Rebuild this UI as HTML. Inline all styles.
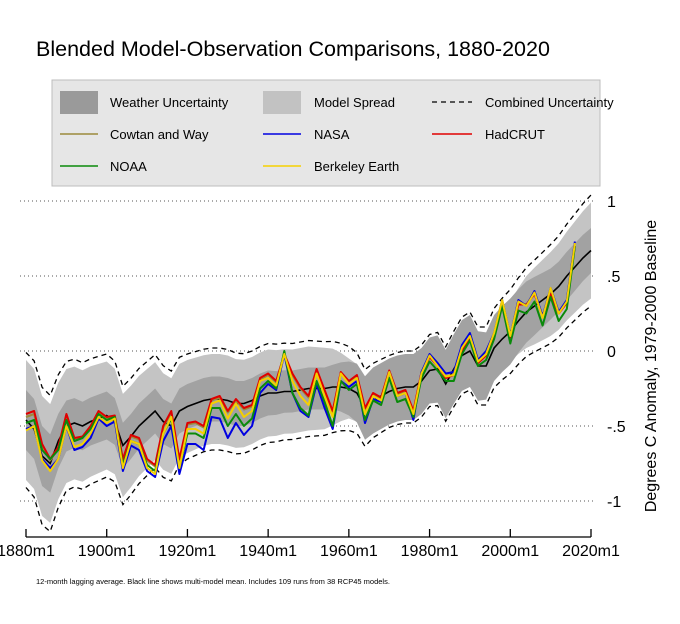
<!DOCTYPE html>
<html><head><meta charset="utf-8">
<style>
body{margin:0;background:#fff;}
svg{display:block;font-family:"Liberation Sans",Arial,sans-serif;}
</style></head>
<body>
<svg id="chart" width="680" height="624" viewBox="0 0 680 624">
<rect x="0" y="0" width="680" height="624" fill="#fff"/>
<text x="36" y="56" font-size="21.5" fill="#000">Blended Model-Observation Comparisons, 1880-2020</text>
<g>
<rect x="52" y="80" width="548" height="106" fill="#e6e6e6" stroke="#bdbdbd"/>
<g><rect x="60" y="91" width="38" height="23" fill="#9a9a9a"/><text x="110" y="107" font-size="13">Weather Uncertainty</text></g>
<g><rect x="263" y="91" width="38" height="23" fill="#c2c2c2"/><text x="314" y="107" font-size="13">Model Spread</text></g>
<g><line x1="432" y1="102" x2="472" y2="102" stroke="#000" stroke-width="1.3" stroke-dasharray="5,4"/><text x="485" y="107" font-size="13">Combined Uncertainty</text></g>
<g><line x1="60" y1="134" x2="98" y2="134" stroke="#9b8a3c" stroke-width="1.5"/><text x="110" y="139" font-size="13">Cowtan and Way</text></g>
<g><line x1="263" y1="134" x2="301" y2="134" stroke="#0000e0" stroke-width="1.5"/><text x="314" y="139" font-size="13">NASA</text></g>
<g><line x1="432" y1="134" x2="472" y2="134" stroke="#e00000" stroke-width="1.5"/><text x="485" y="139" font-size="13">HadCRUT</text></g>
<g><line x1="60" y1="166" x2="98" y2="166" stroke="#0a8a0a" stroke-width="1.5"/><text x="110" y="171" font-size="13">NOAA</text></g>
<g><line x1="263" y1="166" x2="301" y2="166" stroke="#f5d000" stroke-width="1.5"/><text x="314" y="171" font-size="13">Berkeley Earth</text></g>
</g>
<g id="plot"></g>
<text x="36" y="584" font-size="7.5" fill="#000">12-month lagging average. Black line shows multi-model mean. Includes 109 runs from 38 RCP45 models.</text>
</svg>
<script>
const yTicks = [1, 0.5, 0, -0.5, -1];
const yTickLabels = ["1", ".5", "0", "-.5", "-1"];
const xTicks = [1880, 1900, 1920, 1940, 1960, 1980, 2000, 2020];
const xTickLabels = ["1880m1", "1900m1", "1920m1", "1940m1", "1960m1", "1980m1", "2000m1", "2020m1"];
// model mean, every 2 years from 1880
const meanValues = [-0.46,-0.52,-0.7,-0.75,-0.6,-0.5,-0.48,-0.5,-0.47,-0.45,
-0.43,-0.47,-0.63,-0.57,-0.5,-0.45,-0.4,-0.47,-0.5,-0.4,
-0.37,-0.35,-0.33,-0.32,-0.32,-0.33,-0.35,-0.35,-0.33,-0.3,
-0.28,-0.28,-0.27,-0.27,-0.26,-0.25,-0.25,-0.25,-0.24,-0.24,
-0.25,-0.28,-0.38,-0.33,-0.3,-0.27,-0.25,-0.24,-0.24,-0.2,
-0.13,-0.12,-0.22,-0.12,-0.03,0.0,-0.1,-0.1,0.02,0.08,
0.13,0.2,0.26,0.3,0.34,0.38,0.43,0.5,0.56,0.62,0.67];
// half widths, every 5 years from 1880
const spreadHalf = [.4,.4,.38,.37,.36,.34,.33,.32,.31,.3,.3,.29,.29,.28,.28,.27,.2,.18,.18,.18,.18,.18,.18,.18,.2,.25,.28,.3,.32];
const weatherHalf = [.2,.2,.17,.16,.16,.15,.15,.15,.15,.15,.15,.15,.15,.14,.14,.14,.18,.22,.22,.22,.22,.23,.24,.22,.22,.2,.17,.16,.15];
const combinedHalf = [.45,.46,.43,.42,.41,.39,.38,.37,.35,.34,.34,.33,.33,.32,.32,.31,.28,.25,.24,.24,.24,.25,.26,.26,.28,.3,.33,.35,.37];
// observations, every 2 years from 1880
const cowtanValues = [-0.44,-0.42,-0.64,-0.73,-0.65,-0.43,-0.59,-0.58,-0.51,-0.41,
-0.45,-0.44,-0.73,-0.57,-0.59,-0.73,-0.77,-0.51,-0.41,-0.73,
-0.49,-0.48,-0.51,-0.33,-0.31,-0.41,-0.33,-0.39,-0.37,-0.19,
-0.16,-0.21,-0.03,-0.16,-0.25,-0.31,-0.13,-0.27,-0.41,-0.15,
-0.21,-0.17,-0.4,-0.29,-0.32,-0.14,-0.29,-0.27,-0.41,-0.15,
-0.04,-0.1,-0.17,-0.16,0.01,0.09,-0.07,-0.02,0.11,0.33,
0.1,0.32,0.31,0.39,0.23,0.4,0.25,0.33,0.72];
const hadcrutValues = [-0.42,-0.4,-0.62,-0.72,-0.64,-0.42,-0.58,-0.57,-0.5,-0.4,
-0.44,-0.43,-0.72,-0.56,-0.58,-0.72,-0.76,-0.5,-0.4,-0.72,
-0.48,-0.47,-0.5,-0.32,-0.3,-0.4,-0.32,-0.38,-0.36,-0.18,
-0.15,-0.2,-0.02,-0.15,-0.24,-0.3,-0.12,-0.26,-0.4,-0.14,
-0.2,-0.16,-0.38,-0.28,-0.31,-0.13,-0.28,-0.26,-0.4,-0.14,
-0.04,-0.1,-0.18,-0.16,0.0,0.08,-0.08,-0.03,0.1,0.32,
0.09,0.31,0.31,0.38,0.23,0.38,0.25,0.32,0.7];
const nasaValues = [-0.52,-0.5,-0.72,-0.78,-0.72,-0.5,-0.66,-0.64,-0.58,-0.45,
-0.5,-0.47,-0.8,-0.63,-0.66,-0.8,-0.84,-0.6,-0.5,-0.82,
-0.62,-0.62,-0.66,-0.44,-0.45,-0.58,-0.48,-0.56,-0.5,-0.28,
-0.22,-0.26,-0.02,-0.28,-0.4,-0.44,-0.22,-0.38,-0.52,-0.2,
-0.24,-0.2,-0.48,-0.32,-0.34,-0.14,-0.3,-0.28,-0.46,-0.14,
-0.02,-0.08,-0.15,-0.14,0.04,0.12,-0.06,0.0,0.12,0.34,
0.1,0.34,0.3,0.4,0.23,0.42,0.26,0.34,0.73];
const noaaValues = [-0.48,-0.46,-0.66,-0.72,-0.66,-0.46,-0.6,-0.58,-0.52,-0.42,
-0.46,-0.44,-0.76,-0.6,-0.62,-0.76,-0.8,-0.55,-0.45,-0.78,
-0.55,-0.55,-0.58,-0.38,-0.38,-0.5,-0.42,-0.5,-0.45,-0.25,
-0.2,-0.25,0.0,-0.28,-0.38,-0.43,-0.2,-0.34,-0.5,-0.2,
-0.26,-0.22,-0.46,-0.33,-0.36,-0.18,-0.34,-0.32,-0.44,-0.18,
-0.07,-0.13,-0.2,-0.2,-0.02,0.07,-0.1,-0.06,0.08,0.3,
0.05,0.27,0.25,0.33,0.17,0.36,0.2,0.28,0.7];
const berkeleyValues = [-0.53,-0.5,-0.73,-0.8,-0.72,-0.5,-0.64,-0.62,-0.55,-0.44,
-0.48,-0.45,-0.78,-0.6,-0.62,-0.78,-0.82,-0.55,-0.44,-0.78,
-0.52,-0.52,-0.55,-0.35,-0.33,-0.45,-0.35,-0.44,-0.4,-0.2,
-0.18,-0.23,-0.02,-0.2,-0.3,-0.36,-0.15,-0.3,-0.44,-0.15,
-0.22,-0.18,-0.42,-0.3,-0.33,-0.14,-0.3,-0.28,-0.42,-0.15,
-0.03,-0.1,-0.17,-0.16,0.02,0.1,-0.07,-0.02,0.12,0.34,
0.1,0.33,0.3,0.39,0.22,0.42,0.25,0.33,0.72];

const NS = "http://www.w3.org/2000/svg";
const plot = document.getElementById("plot");
function xScale(yr){ return 26 + (yr - 1880) * (565 / 140); }
function yScale(v){ return 351 - v * 150; }
function halfAt(arr, yr){
  const f = (yr - 1880) / 5, i = Math.min(Math.floor(f), arr.length - 2), t = f - i;
  return arr[i] * (1 - t) + arr[i + 1] * t;
}
function mk(tag, attrs){
  const e = document.createElementNS(NS, tag);
  for (const k in attrs) e.setAttribute(k, attrs[k]);
  plot.appendChild(e);
  return e;
}
function pathFrom(vals){
  return vals.map((v, i) => (i ? "L" : "M") + xScale(1880 + 2 * i).toFixed(1) + "," + yScale(v).toFixed(1)).join(" ");
}
function bandPath(halfArr, sign){
  return meanValues.map((m, i) => { const yr = 1880 + 2 * i; return [xScale(yr), yScale(m + sign * halfAt(halfArr, yr))]; });
}
function area(halfArr){
  const up = bandPath(halfArr, 1), lo = bandPath(halfArr, -1).reverse();
  return up.concat(lo).map((p, i) => (i ? "L" : "M") + p[0].toFixed(1) + "," + p[1].toFixed(1)).join(" ") + "Z";
}
function line(pts){ return pts.map((p, i) => (i ? "L" : "M") + p[0].toFixed(1) + "," + p[1].toFixed(1)).join(" "); }

yTicks.forEach((v, i) => {
  const g = mk("line", {x1: 20, x2: 594, y1: yScale(v), y2: yScale(v), stroke: "#555", "stroke-width": 1, "stroke-dasharray": "1,3"});
  
  
  const t = mk("text", {x: 607, y: yScale(v) + 6, "font-size": 16});
  t.textContent = yTickLabels[i];
  
  
});
const sp = mk("path", {d: area(spreadHalf), fill: "#c4c4c4"});


const wu = mk("path", {d: area(weatherHalf), fill: "#a2a2a2"});


[1, -1].forEach(s => {
  const c = mk("path", {d: line(bandPath(combinedHalf, s)), fill: "none", stroke: "#000", "stroke-width": 1.3, "stroke-dasharray": "5,4"});
  
  
});
const mn = mk("path", {d: line(meanValues.map((m, i) => [xScale(1880 + 2 * i), yScale(m)])), fill: "none", stroke: "#000", "stroke-width": 1.6});


const series = [["cowtan-and-way-line", cowtanValues, "#9b8a3c"], ["hadcrut-line", hadcrutValues, "#e00000"], ["nasa-line", nasaValues, "#0000e0"], ["noaa-line", noaaValues, "#0a8a0a"], ["berkeley-earth-line", berkeleyValues, "#f5d000"]];
series.forEach(s => {
  const p = mk("path", {d: pathFrom(s[1]), fill: "none", stroke: s[2], "stroke-width": 2, "stroke-linejoin": "round"});
  
  
});
const ax = mk("line", {x1: xScale(1880), x2: xScale(2020), y1: 537, y2: 537, stroke: "#000", "stroke-width": 1.3});


xTicks.forEach((yr, i) => {
  const tk = mk("line", {x1: xScale(yr), x2: xScale(yr), y1: 529, y2: 537, stroke: "#000", "stroke-width": 1.3});
  
  
  const t = mk("text", {x: xScale(yr), y: 556, "font-size": 16, "text-anchor": "middle"});
  t.textContent = xTickLabels[i];
  
  
});
const yt = mk("text", {x: 0, y: 0, "font-size": 16, "text-anchor": "middle", transform: "translate(656,366) rotate(-90)"});
yt.textContent = "Degrees C Anomaly, 1979-2000 Baseline";


</script>
</body></html>
